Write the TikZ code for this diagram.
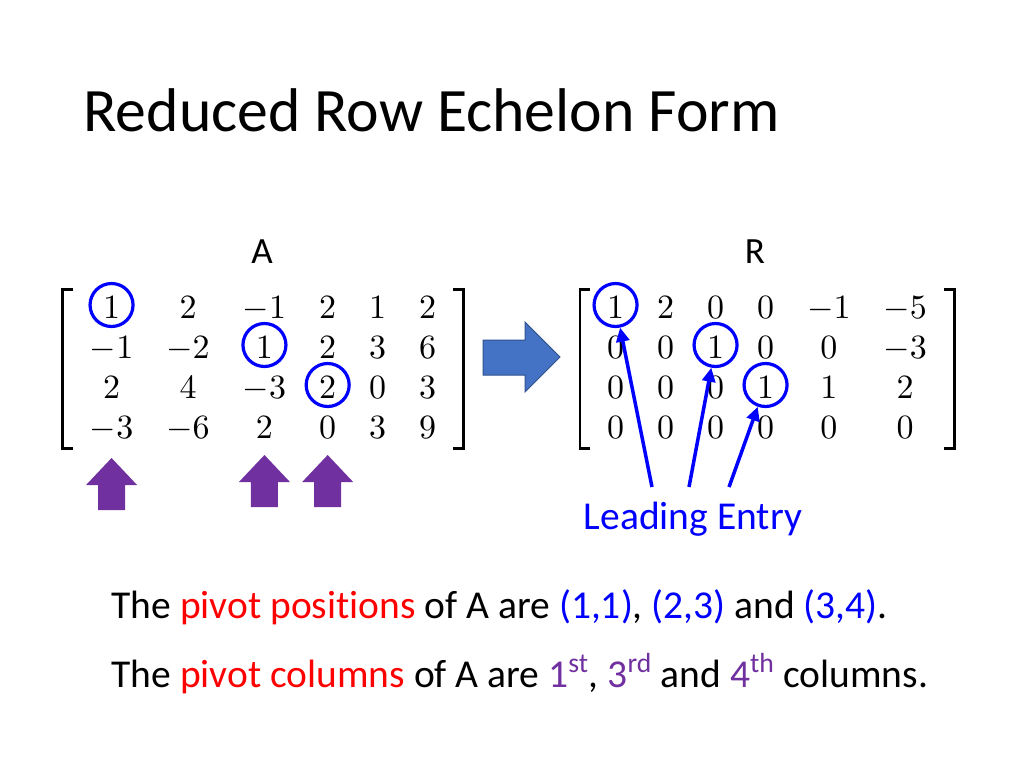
\RequirePackage{fix-cm}
\documentclass[tikz,border=0pt]{standalone}
\usepackage{fontspec}
\setmainfont[Ligatures=NoCommon]{Carlito}
\DeclareFontShape{OT1}{cmr}{m}{n}{<->cmr10}{}
\DeclareFontShape{OMS}{cmsy}{m}{n}{<->cmsy10}{}
\usepackage{tikz}
\usetikzlibrary{matrix, arrows.meta}
\definecolor{pivotblue}{HTML}{0000FF}
\definecolor{pivotred}{HTML}{FF0000}
\definecolor{colpurple}{HTML}{7030A0}
\definecolor{stepblue}{HTML}{4472C4}
\definecolor{stepedge}{HTML}{2F528F}
\tikzset{
    entries/.style={matrix of math nodes, inner sep=0pt, column sep=33pt, row sep=18pt,
        nodes={inner sep=0pt, text height=22pt, text depth=0pt, anchor=center,
               font=\fontsize{34}{40}\selectfont}},
    brack/.style={line width=2.7pt, line cap=butt},
    ring/.style={circle, draw=pivotblue, line width=3.2pt, minimum size=43pt, inner sep=0pt},
    lead/.style={draw=pivotblue, line width=3.5pt, -{Triangle[length=14pt,width=13pt]}},
    pics/colarrow/.style={code={
        \fill[colpurple] (-13.5,0) -- (13.5,0) -- (13.5,-25) -- (25.5,-25)
            -- (0,-52) -- (-25.5,-25) -- (-13.5,-25) -- cycle;}}
}
\begin{document}
\begin{tikzpicture}[x=1pt, y=-1pt]
    \useasboundingbox[fill=white] (0,0) rectangle (1024,768);
    \node[anchor=base west, font=\fontsize{61.7}{74}\selectfont] (title) at (80,131) {Reduced Row Echelon Form};

    % the two matrices
    \matrix[entries] (A) at (263,367) {
         1 &  2 & -1 & 2 & 1 & 2 \\
        -1 & -2 &  1 & 2 & 3 & 6 \\
         2 &  4 & -3 & 2 & 0 & 3 \\
        -3 & -6 &  2 & 0 & 3 & 9 \\
    };
    \matrix[entries] (R) at (767,367) {
        1 & 2 & 0 & 0 & -1 & -5 \\
        0 & 0 & 1 & 0 &  0 & -3 \\
        0 & 0 & 0 & 1 &  1 &  2 \\
        0 & 0 & 0 & 0 &  0 &  0 \\
    };
    \foreach \m in {A, R} {
        \draw[brack] ([shift={(-17,-6)}]\m.north west) -| ([shift={(-27,10)}]\m.south west) -- ++(10,0);
        \draw[brack] ([shift={(17,-6)}]\m.north east) -| ([shift={(27,10)}]\m.south east) -- ++(-10,0);
    }
    \node[anchor=base, font=\fontsize{37}{44}\selectfont] (nameA) at (262,263) {A};
    \node[anchor=base, font=\fontsize{37}{44}\selectfont] (nameR) at (755,263) {R};

    % pivots circled
    \node[ring] (a1) at ([yshift=2pt]A-1-1) {};
    \node[ring] (a2) at ([yshift=2pt]A-2-3) {};
    \node[ring] (a3) at ([yshift=2pt]A-3-4) {};
    \node[ring] (r1) at ([yshift=2pt]R-1-1) {};
    \node[ring] (r2) at ([yshift=2pt]R-2-3) {};
    \node[ring] (r3) at ([yshift=2pt]R-3-4) {};

    % pivot columns
    \pic at (A-4-1 |- 0,510) {colarrow};
    \pic at (A-4-3 |- 0,507) {colarrow};
    \pic at (A-4-4 |- 0,507) {colarrow};

    % row reduction
    \filldraw[fill=stepblue, draw=stepedge, line width=1pt]
        (483,340) -- (525,340) -- (525,322) -- (560,357) -- (525,392) -- (525,375) -- (483,375) -- cycle;

    % leading entries
    \node[anchor=base, text=pivotblue, font=\fontsize{39.5}{47}\selectfont] (entry) at (693,529) {Leading Entry};
    \coordinate (s1) at (652,487);
    \coordinate (s2) at (689,487);
    \coordinate (s3) at (729,487);
    \draw[lead] (s1) -- (r1);
    \draw[lead] (s2) -- (r2);
    \draw[lead] (s3) -- (r3);

    \node[anchor=base west, font=\fontsize{39.5}{47}\selectfont] (pos) at (108,618)
        {The \textcolor{pivotred}{pivot positions} of A are \textcolor{pivotblue}{(1,1)}, \textcolor{pivotblue}{(2,3)} and \textcolor{pivotblue}{(3,4)}.};
    \node[anchor=base west, font=\fontsize{39.5}{47}\selectfont] (cols) at (108,687)
        {The \textcolor{pivotred}{pivot columns} of A are \textcolor{colpurple}{1\textsuperscript{st}}, \textcolor{colpurple}{3\textsuperscript{rd}} and \textcolor{colpurple}{4\textsuperscript{th}} columns.};
\end{tikzpicture}
\end{document}
